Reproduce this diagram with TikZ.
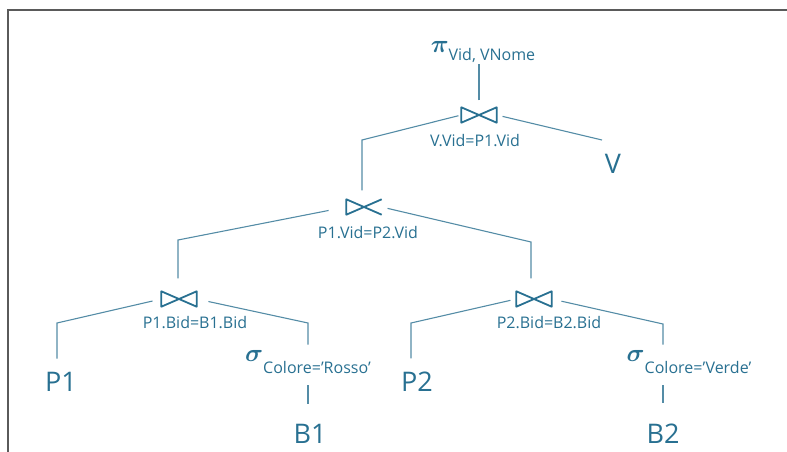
\documentclass[tikz,border=0pt]{standalone}
\usepackage{fontspec}
\setmainfont{Open Sans}
\definecolor{testo}{RGB}{40,112,145}
\definecolor{linea}{RGB}{84,140,166}
\definecolor{cornice}{RGB}{90,90,90}
\newcommand{\pedice}[2]{\raisebox{-#1}{\fontsize{16}{16}\selectfont #2}}
\begin{document}
\begin{tikzpicture}[x=1pt, y=-1pt, text=testo,
    ramo/.style={draw=linea, line width=1.1pt},
    farfalla/.style={draw=testo, line width=1.8pt, line join=round},
    giunzione/.style={minimum width=35pt, minimum height=15pt, inner sep=0pt},
    foglia/.style={inner sep=0pt, anchor=base, font=\fontsize{27}{27}\selectfont},
    etichetta/.style={inner sep=0pt, anchor=base, font=\fontsize{16}{16}\selectfont},
    operatore/.style={inner sep=0pt, anchor=base, font=\fontsize{27}{27}\selectfont\boldmath}]
\useasboundingbox (0,0) rectangle (787,452);
\draw[cornice, line width=1.5pt] (8,452) -- (8,10) -- (787,10); % cornice

% operatori
\node[operatore] (proj) at (483,53) {$\pi$\pedice{8pt}{Vid, VNome}};
\node[operatore] (sR) at (308,361) {$\sigma$\pedice{12pt}{Colore=’Rosso’}};
\node[operatore] (sV) at (689,361) {$\sigma$\pedice{12pt}{Colore=’Verde’}};

% join e condizioni
\node[giunzione] (j1) at (479,115) {};
\node[giunzione] (j2) at (364,207) {};
\node[giunzione] (j3) at (179,299) {};
\node[giunzione] (j4) at (534,299) {};
\node[etichetta] (lab1) at (475,146) {V.Vid=P1.Vid};
\node[etichetta] (lab2) at (368,238) {P1.Vid=P2.Vid};
\node[etichetta] (lab3) at (195,328) {P1.Bid=B1.Bid};
\node[etichetta] (lab4) at (549,328) {P2.Bid=B2.Bid};
\foreach \g in {j1,j3,j4} % simbolo di join
    \draw[farfalla] (\g.north west) -- (\g.south east) -- (\g.north east) -- (\g.south west) -- cycle;
\draw[farfalla] (j2.north east) -- (j2.south west) -- (j2.north west) -- (j2.south east);

% relazioni
\node[foglia] (V) at (613,173) {V};
\node[foglia] (P1) at (61,391) {P1};
\node[foglia] (P2) at (417,391) {P2};
\node[foglia] (B1) at (310,443) {B1};
\node[foglia] (B2) at (663,443) {B2};

% gomiti dei rami
\coordinate (c-j2) at (362,140);
\coordinate (c-v) at (602,140);
\coordinate (c-j3) at (178,240);
\coordinate (c-j4) at (531,242);
\coordinate (c-p1) at (57,323);
\coordinate (c-sr) at (308,323);
\coordinate (c-p2) at (411,323);
\coordinate (c-sv) at (663,324);

% rami
\draw[ramo, shorten <=7pt, shorten >=1pt] (j1.north) -- (j1.north |- proj.south);
\draw[ramo, shorten <=3pt, shorten >=9pt] (j1.west) -- (c-j2) -- (c-j2 |- j2.north);
\draw[ramo, shorten <=6pt] (j1.east) -- (c-v);
\draw[ramo, shorten <=18pt, shorten >=13pt] (j2.west) -- (c-j3) -- (c-j3 |- j3.north);
\draw[ramo, shorten <=6pt, shorten >=13pt] (j2.east) -- (c-j4) -- (c-j4 |- j4.north);
\draw[ramo, shorten <=9pt, shorten >=13pt] (j3.west) -- (c-p1) -- (c-p1 |- P1.north);
\draw[ramo, shorten <=12pt, shorten >=5pt] (j3.east) -- (c-sr) -- (c-sr |- sR.north);
\draw[ramo, shorten <=6pt, shorten >=13pt] (j4.west) -- (c-p2) -- (c-p2 |- P2.north);
\draw[ramo, shorten <=10pt, shorten >=5pt] (j4.east) -- (c-sv) -- (c-sv |- sV.north);
\draw[ramo, shorten <=12pt, shorten >=20pt] (c-sr |- sR.south) -- (c-sr |- B1.north);
\draw[ramo, shorten <=12pt, shorten >=20pt] (c-sv |- sV.south) -- (c-sv |- B2.north);
\end{tikzpicture}
\end{document}
